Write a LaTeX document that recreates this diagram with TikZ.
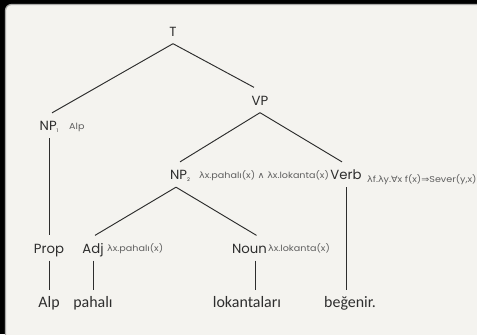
\documentclass[tikz,border=0pt]{standalone}
\usepackage{fontspec}
\newfontfamily\labfont{Poppins}
\newfontfamily\wordfont{Carlito}
\newfontfamily\symfont{DejaVu Sans}[FakeStretch=1.12]
\newfontfamily\annfont{Poppins}[FakeStretch=1.12]

\definecolor{panel}{RGB}{244,243,239}
\definecolor{ink}{RGB}{45,45,45}
\definecolor{annink}{RGB}{95,95,95}
\definecolor{rim}{RGB}{170,170,168}

% Greek letters and logic symbols come from DejaVu Sans
\newcommand{\lam}{{\symfont λ}}
\newcommand{\lgand}{{\symfont ∧}}
\newcommand{\lgall}{{\symfont ∀}}
\newcommand{\lgimp}{{\symfont ⇒}}
\newcommand{\catsub}[1]{\raisebox{-2.5pt}{\fontsize{5}{5}\selectfont #1}}

\tikzset{
  cat/.style={font=\labfont\fontsize{13.3}{13.3}\selectfont, text=ink,
    inner xsep=0pt, inner ysep=4.5pt, text height=13pt, text depth=3pt, anchor=base},
  word/.style={font=\wordfont\fontsize{16}{16}\selectfont, text=ink,
    inner xsep=0pt, inner ysep=4pt, text height=13pt, text depth=0pt, anchor=base},
  ann/.style={font=\annfont\fontsize{8.6}{8.6}\selectfont, text=annink,
    inner sep=0pt, anchor=base west},
  branch/.style={draw=ink, line width=0.95pt},
}

\begin{document}
\begin{tikzpicture}[x=1bp,y=-1bp]
\useasboundingbox (0,0) rectangle (477,334);
% dark frame and the light panel
\fill[black] (0,0) rectangle (477,334);
\filldraw[fill=panel, draw=rim, line width=1.2pt, rounded corners=6pt] (5.5,4.5) rectangle (490,345);

% category labels
\node[cat] (T)    at (173,36)    {T};
\node[cat] (VP)   at (260,105)   {VP};
\node[cat] (NPa)  at (49,130.5)  {NP\catsub{1}};
\node[cat] (NPb)  at (180,179.5) {NP\catsub{2}};
\node[cat] (Verb) at (346,179.5) {Verb};
\node[cat] (Prop) at (49,253)    {Prop};
\node[cat] (Adj)  at (93,253)    {Adj};
\node[cat] (Noun) at (249.5,253) {Noun};

% words
\node[word] (alp) at (49,307)  {Alp};
\node[word] (pah) at (93,307)  {pahalı};
\node[word] (lok) at (247,307) {lokantaları};
\node[word] (beg) at (350,307) {beğenir.};

% semantic annotations
\node[ann] (annNPa)  at (69,129)    {Alp};
\node[ann] (annNPb)  at (199,178)   {\lam x.pahalı(x) \lgand{} \lam x.lokanta(x)};
\node[ann] (annVerb) at (367,182.5) {\lam f.\lam y.\lgall x f(x)\lgimp Sever(y,x)};
\node[ann] (annAdj)  at (107,251.5) {\lam x.pahalı(x)};
\node[ann] (annNoun) at (268,251.5) {\lam x.lokanta(x)};

% branches
\draw[branch] (T.south) -- ([xshift=3pt]NPa.north);
\draw[branch] (T.south) -- ([xshift=-6pt]VP.north);
\draw[branch] (VP.south) -- (NPb.north);
\draw[branch] (VP.south) -- ([xshift=-4pt]Verb.north);
\draw[branch] (NPa.south) -- (Prop.north);
\draw[branch] ([xshift=-4pt]NPb.south) -- ([xshift=2pt]Adj.north);
\draw[branch] ([xshift=-4pt]NPb.south) -- ([xshift=7pt]Noun.north);
\draw[branch] (Verb.south) -- (Verb.south |- beg.north);
\draw[branch] (Prop.south) -- (Prop.south |- alp.north);
\draw[branch] (Adj.south) -- (Adj.south |- pah.north);
\draw[branch] ([xshift=5.5pt]Noun.south) -- ([xshift=5.5pt]Noun.south |- lok.north);
\end{tikzpicture}
\end{document}
